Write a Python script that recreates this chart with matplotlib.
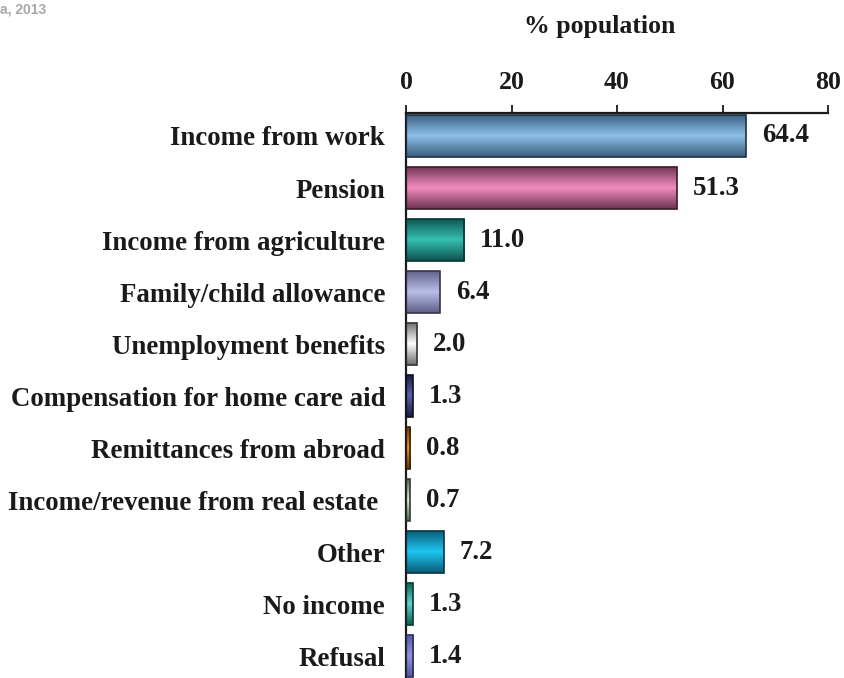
import numpy as np
import matplotlib
matplotlib.use("Agg")
import matplotlib.pyplot as plt
from matplotlib.colors import LinearSegmentedColormap

categories = ["Income from work", "Pension", "Income from agriculture",
              "Family/child allowance", "Unemployment benefits",
              "Compensation for home care aid", "Remittances from abroad",
              "Income/revenue from real estate ", "Other", "No income", "Refusal"]
values = [64.4, 51.3, 11.0, 6.4, 2.0, 1.3, 0.8, 0.7, 7.2, 1.3, 1.4]
value_labels = ["64.4", "51.3", "11.0", "6.4", "2.0", "1.3", "0.8", "0.7", "7.2", "1.3", "1.4"]
x_ticks = [0, 20, 40, 60, 80]
light_colors = ["#8DC0EA", "#F28DBF", "#35BFB2", "#BBBFE8", "#FFFFFF", "#5C61AA",
                "#F5951F", "#DCF0DA", "#1EC6F4", "#62D2C8", "#9494DA"]
dark_colors = ["#3B5E7E", "#6E3452", "#0E5550", "#5E5F86", "#6E6E6E", "#1A1C45",
               "#6A3A05", "#4E6E4E", "#0A5B75", "#0D5E58", "#5558A0"]
outline_colors = ["#1E3045", "#3A1A2A", "#063330", "#33344F", "#333333", "#0C0D25",
                  "#3A2002", "#2A3E2A", "#053545", "#063A35", "#2E3060"]

SERIF = ["Liberation Serif", "DejaVu Serif"]
FS = 19.4
TXT = "#1A1A1A"

fig = plt.figure(figsize=(8.44, 6.78), dpi=100)
ax = fig.add_axes([406 / 844, 0.0, 422 / 844, 565 / 678])

y = np.arange(len(categories))
bars = ax.barh(y, values, height=0.81, color="none", edgecolor="none", zorder=2)

grad = np.linspace(0, 1, 64).reshape(-1, 1)
for i, patch in enumerate(bars.patches):
    cmap = LinearSegmentedColormap.from_list(
        f"g{i}", [(0.0, dark_colors[i]), (0.5, light_colors[i]), (1.0, dark_colors[i])])
    x0, y0 = patch.get_x(), patch.get_y()
    w, h = patch.get_width(), patch.get_height()
    im = ax.imshow(grad, cmap=cmap, aspect="auto", extent=(x0, x0 + w, y0 + h, y0),
                   zorder=2, interpolation="bilinear")
    im.set_clip_path(patch)
    ax.add_patch(plt.Rectangle((x0, y0), w, h, fill=False, edgecolor=outline_colors[i],
                               linewidth=1.2, zorder=3))
    ax.annotate(value_labels[i], xy=(x0 + w, y0 + h / 2), xytext=(11.5, 0),
                textcoords="offset points", ha="left", va="center",
                fontsize=FS, fontweight="bold", family=SERIF, color=TXT)

ax.set_xlim(0, 80)
ax.set_ylim(10.42, -0.442)
ax.xaxis.tick_top()
ax.set_xticks(x_ticks)
ax.set_xticklabels([str(t) for t in x_ticks], fontsize=18.5, fontweight="bold",
                   family=SERIF, color=TXT)
ax.tick_params(axis="x", direction="out", length=6, width=1.3, pad=8, colors=TXT)
ax.set_yticks(y)
ax.set_yticklabels(categories, fontsize=FS, fontweight="bold", family=SERIF, color=TXT)
ax.tick_params(axis="y", length=0, pad=15)
for s in ["right", "bottom"]:
    ax.spines[s].set_visible(False)
for s in ["left", "top"]:
    ax.spines[s].set_linewidth(1.6)
    ax.spines[s].set_color(TXT)

fig.text(600 / 844, 1 - 26 / 678, "% population", ha="center", va="center",
         fontsize=18.5, fontweight="bold", family=SERIF, color=TXT)
fig.text(0.0, 1 - 2 / 678, "a, 2013", ha="left", va="top",
         fontsize=10, fontweight="bold", family=["Liberation Sans", "DejaVu Sans"],
         color="#A8A8A8")

fig.savefig("out.png", dpi=100)
